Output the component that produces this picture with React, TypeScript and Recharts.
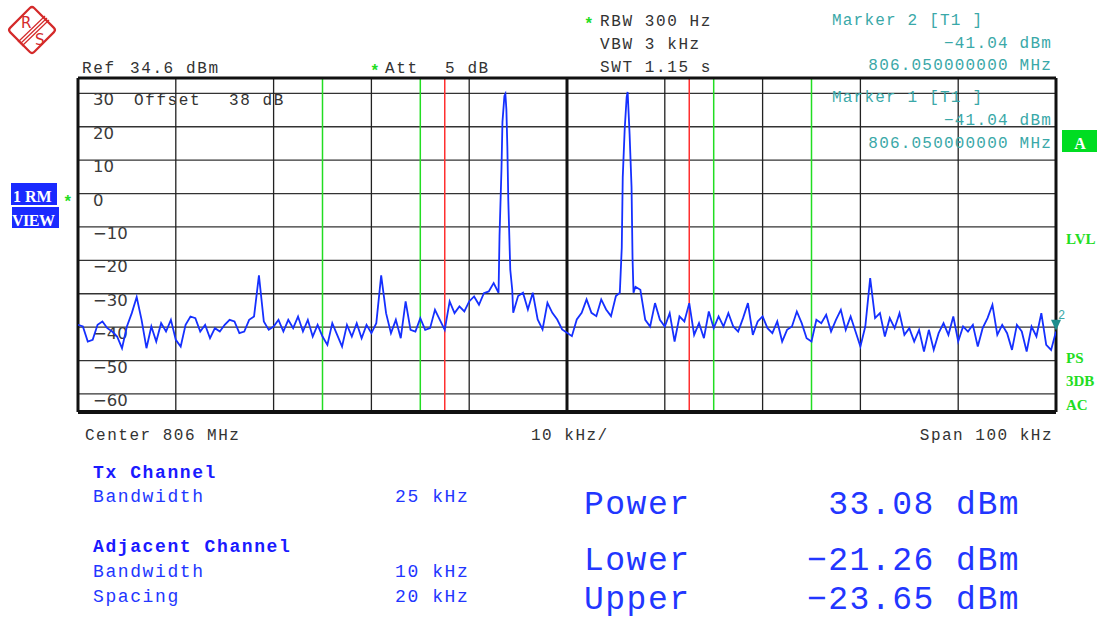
import React from "react";
import { LineChart, Line, XAxis, YAxis, ReferenceLine, ReferenceDot } from "recharts";

// sweep: center 806 MHz, span 100 kHz, x in kHz offset from center
const SPAN_START = -50;
const SPAN_STOP = 50;
const SWEEP_STEP = 0.5;
const REF_LEVEL = 34.6;
const LEVEL_RANGE = 100;

// noise floor, -50 kHz .. -7.5 kHz
const noiseLeft = [
  -39.3, -39.8, -44.3, -43.8, -39.3, -38.3, -40.3, -41.3, -42.8, -46.3,
  -39.8, -35.8, -31.0, -37.8, -46.3, -39.8, -44.3, -38.8, -41.3, -37.8,
  -43.8, -45.8, -39.3, -36.8, -37.3, -41.3, -39.3, -43.3, -40.3, -41.3,
  -39.3, -37.8, -38.3, -41.8, -41.3, -37.8, -36.8, -24.5, -38.3, -40.8,
  -39.8, -37.8, -41.3, -37.8, -40.3, -36.8, -41.3, -37.8, -42.8, -39.3,
  -42.8, -45.3, -38.8, -42.3, -45.8, -39.3, -42.8, -38.8, -43.3, -39.3,
  -41.8, -38.8, -24.5, -35.8, -41.8, -37.8, -43.3, -32.3, -40.8, -41.3,
  -37.3, -40.8, -40.3, -34.8, -37.8, -40.8, -32.3, -35.8, -33.8, -35.3,
  -32.3, -30.8, -33.3, -29.8, -29.3, -26.8,
];

// first carrier [kHz, dBm]
const carrier1: [number, number][] = [
  [-7.0, -29.7], [-6.9, -12.8], [-6.7, 7.3], [-6.6, 21.4], [-6.4, 29.2], [-6.3, 29.8],
  [-6.2, 25.3], [-6.1, 14.2], [-6.0, -2.3], [-5.8, -22.8], [-5.6, -28.8], [-5.5, -35.7],
];

// between carriers, -5 kHz .. 5 kHz
const noiseMid = [
  -30.7, -29.7, -34.7, -29.7, -37.7, -40.7, -32.7, -35.7, -37.7, -40.7,
  -41.7, -42.7, -37.7, -35.7, -31.7, -35.7, -36.7, -31.7, -34.7, -36.7, -30.7,
];

// second carrier [kHz, dBm]
const carrier2: [number, number][] = [
  [5.4, -29.7], [5.6, -16.2], [5.7, 4.9], [5.9, 19.3], [6.1, 28.9], [6.2, 30.4],
  [6.4, 17.8], [6.6, 1.9], [6.7, -19.2], [6.8, -29.7], [7.0, -27.9],
];

// noise floor, 7.5 kHz .. 50 kHz
const noiseRight = [
  -28.8, -37.8, -39.8, -32.8, -37.8, -39.8, -35.8, -44.3, -36.8, -38.3,
  -32.8, -42.3, -38.8, -43.3, -35.3, -40.3, -36.8, -39.8, -35.8, -39.8,
  -41.3, -37.3, -32.8, -42.3, -38.3, -36.8, -40.3, -41.8, -38.3, -44.3,
  -40.8, -39.8, -35.3, -38.8, -43.3, -44.3, -37.8, -38.8, -36.3, -41.3,
  -37.8, -34.8, -40.8, -36.8, -41.3, -45.8, -39.8, -25.3, -37.3, -35.8,
  -42.8, -37.3, -40.3, -35.8, -42.3, -40.3, -44.3, -40.8, -47.3, -40.8,
  -46.8, -41.8, -38.8, -42.3, -36.8, -44.3, -39.8, -41.3, -39.3, -45.8,
  -40.3, -37.3, -33.3, -42.3, -39.3, -41.8, -46.8, -39.3, -41.3, -47.3,
  -39.8, -42.8, -35.8, -45.3, -46.8, -41.3,
];

const gridFreqs = [-40, -30, -20, -10, 10, 20, 30, 40];
const gridLevels = [30, 20, 10, 0, -10, -20, -30, -40, -50, -60];
const txChannelEdges = [-12.5, 12.5];
const adjChannelEdges = [-25, -15, 15, 25];
const marker2 = { freq: 50, level: -41.04 };

const sweep = (start: number, vals: number[]) =>
  vals.map((v, i) => ({ f: start + i * SWEEP_STEP, dbm: v }));
const pairs = (pts: [number, number][]) => pts.map(([f, dbm]) => ({ f, dbm }));

const trace = [
  ...sweep(SPAN_START, noiseLeft),
  ...pairs(carrier1),
  ...sweep(-5, noiseMid),
  ...pairs(carrier2),
  ...sweep(7.5, noiseRight),
];

const MONO = "Liberation Mono";
const SERIF = "Liberation Serif";
const BLUE = "#2236ff";
const TEAL = "#3aa8a8";
const GREEN = "#22dd22";
const DARK = "#333";

const levelText = (v: number) => (v < 0 ? "\u2212" + Math.abs(v) : String(v));

const yLabel = (v: number) => (props: any) => {
  const vb = props.viewBox || { x: 78, y: 0 };
  return (
    <text x={vb.x + 15} y={vb.y + 12} fontFamily="DejaVu Sans" fontSize={16.5} fill="#3a3a3a">
      {levelText(v)}
    </text>
  );
};

const MarkerShape = (props: any) => {
  const { cx, cy } = props;
  return (
    <g>
      <polygon points={`${cx - 5},${cy - 11} ${cx + 5},${cy - 11} ${cx},${cy}`} fill="#1f8f8f" />
      <text x={cx + 2} y={cy - 12} fontFamily={MONO} fontSize={12} fill={TEAL}>2</text>
    </g>
  );
};

const T = (p: any) => (
  <text
    fontFamily={MONO}
    fontSize={16}
    letterSpacing={1.6}
    fill={DARK}
    style={{ whiteSpace: "pre" }}
    {...p}
  />
);

const Logo = () => (
  <g transform="translate(32,30)" stroke="#d42a2a" fill="none">
    <rect x={-17} y={-17} width={34} height={34} rx={3} transform="rotate(45)" strokeWidth={2.2} />
    <line x1={-14} y1={12} x2={13} y2={-14} strokeWidth={1.2} />
    <line x1={-12} y1={14} x2={15} y2={-12} strokeWidth={1.2} />
    <line x1={-10} y1={16} x2={17} y2={-10} strokeWidth={1.2} />
    <text x={-11} y={-2} fontFamily="DejaVu Sans" fontSize={15} fill="#d42a2a" stroke="none">R</text>
    <text x={3} y={15} fontFamily="DejaVu Sans" fontSize={15} fill="#d42a2a" stroke="none">S</text>
  </g>
);

const Overlay = () => (
  <svg
    width={1103}
    height={618}
    style={{ position: "absolute", left: 0, top: 0, pointerEvents: "none" }}
  >
    <Logo />
    {/* header */}
    <T x={82} y={73}>Ref</T>
    <T x={130} y={73}>34.6 dBm</T>
    <T x={370} y={76} fill={GREEN} fontWeight="bold">*</T>
    <T x={385} y={73}>Att</T>
    <T x={445} y={73}>5 dB</T>
    <T x={584} y={29} fill={GREEN} fontWeight="bold">*</T>
    <T x={600} y={26}>RBW 300 Hz</T>
    <T x={600} y={49}>VBW 3 kHz</T>
    <T x={600} y={72}>SWT 1.15 s</T>
    <T x={134} y={105}>Offset</T>
    <T x={229} y={105}>38 dB</T>

    {/* marker readout */}
    <T x={832} y={25} fill={TEAL} letterSpacing={1.2}>Marker 2 [T1 ]</T>
    <T x={1052} y={48} fill={TEAL} letterSpacing={1.2} textAnchor="end">{"\u221241.04 dBm"}</T>
    <T x={1052} y={70} fill={TEAL} letterSpacing={1.2} textAnchor="end">806.050000000 MHz</T>
    <T x={832} y={102} fill={TEAL} letterSpacing={1.2}>Marker 1 [T1 ]</T>
    <T x={1052} y={125} fill={TEAL} letterSpacing={1.2} textAnchor="end">{"\u221241.04 dBm"}</T>
    <T x={1052} y={148} fill={TEAL} letterSpacing={1.2} textAnchor="end">806.050000000 MHz</T>

    {/* left badges */}
    <svg x={11} y={183} width={46} height={22}>
      <rect width={46} height={22} fill="#1a2aff" />
      <text x={2} y={19} fontFamily={SERIF} fontWeight="bold" fontSize={16} fill="#fff">1 RM</text>
    </svg>
    <svg x={12} y={207} width={47} height={21}>
      <rect width={47} height={21} fill="#1a2aff" />
      <text x={0} y={19} fontFamily={SERIF} fontWeight="bold" fontSize={16} fill="#fff" letterSpacing={-0.5}>VIEW</text>
    </svg>
    <T x={63} y={207} fill={GREEN} fontWeight="bold">*</T>

    {/* right badges */}
    <rect x={1062} y={130} width={35} height={22} fill="#00dd22" />
    <text x={1080} y={149} textAnchor="middle" fontFamily={SERIF} fontWeight="bold" fontSize={16} fill="#fff">A</text>
    <text x={1066} y={244} fontFamily={SERIF} fontWeight="bold" fontSize={15} fill={GREEN}>LVL</text>
    <text x={1066} y={363} fontFamily={SERIF} fontWeight="bold" fontSize={15} fill={GREEN}>PS</text>
    <text x={1066} y={386} fontFamily={SERIF} fontWeight="bold" fontSize={15} fill={GREEN}>3DB</text>
    <text x={1066} y={410} fontFamily={SERIF} fontWeight="bold" fontSize={15} fill={GREEN}>AC</text>

    {/* axis footer */}
    <T x={85} y={440} letterSpacing={1.5}>Center 806 MHz</T>
    <T x={531} y={440} letterSpacing={1.5}>10 kHz/</T>
    <T x={1053} y={440} letterSpacing={1.5} textAnchor="end">Span 100 kHz</T>

    {/* channel settings */}
    <T x={93} y={478} fontSize={18} fill="#1a1aff" fontWeight="bold">Tx Channel</T>
    <T x={93} y={502} fontSize={18} fill={BLUE}>Bandwidth</T>
    <T x={395} y={502} fontSize={18} fill={BLUE}>25 kHz</T>
    <T x={93} y={552} fontSize={18} fill="#1a1aff" fontWeight="bold">Adjacent Channel</T>
    <T x={93} y={577} fontSize={18} fill={BLUE}>Bandwidth</T>
    <T x={395} y={577} fontSize={18} fill={BLUE}>10 kHz</T>
    <T x={93} y={602} fontSize={18} fill={BLUE}>Spacing</T>
    <T x={395} y={602} fontSize={18} fill={BLUE}>20 kHz</T>

    {/* ACP results */}
    <T x={584} y={514} fontSize={33} letterSpacing={1.5} fill={BLUE}>Power</T>
    <T x={1020} y={514} fontSize={33} letterSpacing={1.5} fill={BLUE} textAnchor="end">33.08 dBm</T>
    <T x={584} y={570} fontSize={33} letterSpacing={1.5} fill={BLUE}>Lower</T>
    <T x={1020} y={570} fontSize={33} letterSpacing={1.5} fill={BLUE} textAnchor="end">{"\u221221.26 dBm"}</T>
    <T x={584} y={609} fontSize={33} letterSpacing={1.5} fill={BLUE}>Upper</T>
    <T x={1020} y={609} fontSize={33} letterSpacing={1.5} fill={BLUE} textAnchor="end">{"\u221223.65 dBm"}</T>
  </svg>
);

export default function App() {
  return (
    <div style={{ position: "absolute", left: 0, top: 0, width: 1103, height: 618, background: "#fff" }}>
      <div style={{ position: "absolute", left: 0, top: 0 }}>
        <LineChart
          width={1103}
          height={618}
          data={trace}
          margin={{ top: 78, right: 47, bottom: 206, left: 78 }}
        >
          <XAxis dataKey="f" type="number" domain={[SPAN_START, SPAN_STOP]} hide allowDataOverflow />
          <YAxis type="number" domain={[REF_LEVEL - LEVEL_RANGE, REF_LEVEL]} hide allowDataOverflow />
          {gridLevels.map((v) => (
            <ReferenceLine key={"h" + v} y={v} stroke={DARK} strokeWidth={1.3} label={yLabel(v)} />
          ))}
          {gridFreqs.map((f) => (
            <ReferenceLine key={"v" + f} x={f} stroke="#222" strokeWidth={1.3} />
          ))}
          <ReferenceLine x={0} stroke="#111" strokeWidth={3} />
          {adjChannelEdges.map((f) => (
            <ReferenceLine key={"g" + f} x={f} stroke={GREEN} strokeWidth={1.5} />
          ))}
          {txChannelEdges.map((f) => (
            <ReferenceLine key={"r" + f} x={f} stroke="#ff3030" strokeWidth={1.5} />
          ))}
          <ReferenceLine y={REF_LEVEL} stroke="#111" strokeWidth={3} />
          <ReferenceLine y={REF_LEVEL - LEVEL_RANGE} stroke="#111" strokeWidth={4} />
          <ReferenceLine x={SPAN_START} stroke="#111" strokeWidth={3} />
          <ReferenceLine x={SPAN_STOP} stroke="#111" strokeWidth={3} />
          <Line
            type="linear"
            dataKey="dbm"
            stroke="#1530ff"
            strokeWidth={1.8}
            dot={false}
            isAnimationActive={false}
          />
          <ReferenceDot x={marker2.freq} y={marker2.level} shape={MarkerShape} />
        </LineChart>
      </div>
      <Overlay />
    </div>
  );
}
